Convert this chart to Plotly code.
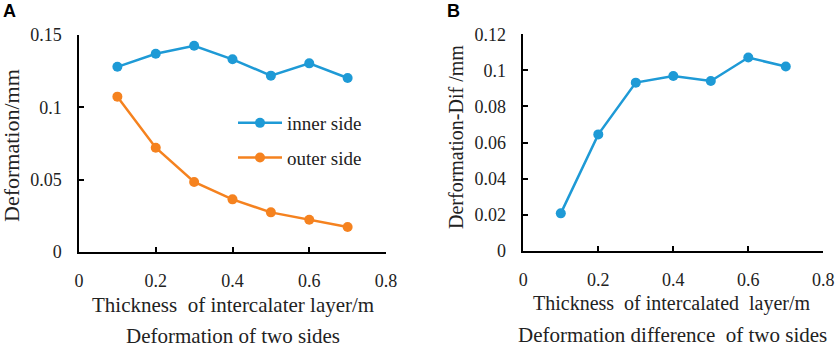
import plotly.graph_objects as go

thickness = [0.1, 0.2, 0.3, 0.4, 0.5, 0.6, 0.7]
inner_side = [0.128, 0.137, 0.1426, 0.1332, 0.1219, 0.1304, 0.1203]
outer_side = [0.1074, 0.0721, 0.0484, 0.0364, 0.0274, 0.0223, 0.0173]
difference = [0.0207, 0.0645, 0.0932, 0.0969, 0.0941, 0.1071, 0.1021]

x_ticks = [0, 0.2, 0.4, 0.6, 0.8]
x_tick_text = ["0", "0.2", "0.4", "0.6", "0.8"]
ya_ticks = [0, 0.05, 0.1, 0.15]
ya_tick_text = ["0", "0.05", "0.1", "0.15"]
yb_ticks = [0, 0.02, 0.04, 0.06, 0.08, 0.1, 0.12]
yb_tick_text = ["0", "0.02", "0.04", "0.06", "0.08", "0.1", "0.12"]

BLUE = "#1E9AD6"
ORANGE = "#F5821F"
SERIF = "Liberation Serif"
SANS = "Liberation Sans"

W, H = 837, 347

fig = go.Figure()
fig.add_trace(go.Scatter(x=thickness, y=inner_side, name="inner side", mode="lines+markers",
                         line=dict(color=BLUE, width=2.5), marker=dict(size=10, color=BLUE),
                         xaxis="x", yaxis="y", legendgroup="a"))
fig.add_trace(go.Scatter(x=thickness, y=outer_side, name="outer side", mode="lines+markers",
                         line=dict(color=ORANGE, width=2.5), marker=dict(size=10, color=ORANGE),
                         xaxis="x", yaxis="y", legendgroup="b"))
fig.add_trace(go.Scatter(x=thickness, y=difference, name="difference", mode="lines+markers",
                         line=dict(color=BLUE, width=2.5), marker=dict(size=10, color=BLUE),
                         xaxis="x2", yaxis="y2", showlegend=False))

axis_common = dict(showgrid=False, zeroline=False, showline=True, linecolor="black", linewidth=1.5,
                   ticks="inside", ticklen=5, tickwidth=1.5, tickcolor="black", automargin=False,
                   tickfont=dict(family=SERIF, size=18, color="#222"))

def px_x(p):
    return p / W

def px_y(p):
    return 1 - p / H

fig.update_layout(
    template="none",
    width=W, height=H, autosize=False,
    margin=dict(l=0, r=0, t=0, b=0, pad=0, autoexpand=False),
    paper_bgcolor="white", plot_bgcolor="white",
    font=dict(family=SERIF),
    xaxis=dict(domain=[px_x(79), px_x(386)], range=[0, 0.8], tickvals=x_ticks, ticktext=x_tick_text,
               anchor="y", ticklabelstandoff=12, **axis_common),
    yaxis=dict(domain=[px_y(252), px_y(35)], range=[0, 0.15], tickvals=ya_ticks, ticktext=ya_tick_text,
               anchor="x", ticklabelstandoff=12, **axis_common),
    xaxis2=dict(domain=[px_x(523.3), px_x(823.3)], range=[0, 0.8], tickvals=x_ticks, ticktext=x_tick_text,
                anchor="y2", ticklabelstandoff=12, **axis_common),
    yaxis2=dict(domain=[px_y(250.7), px_y(34.3)], range=[0, 0.12], tickvals=yb_ticks, ticktext=yb_tick_text,
                anchor="x2", ticklabelstandoff=12, **axis_common),
    legend=dict(x=px_x(233), y=px_y(104), xanchor="left", yanchor="top",
                font=dict(family=SERIF, size=19, color="#222"), bgcolor="rgba(0,0,0,0)",
                borderwidth=0, tracegroupgap=7, itemwidth=44),
    showlegend=True,
)

def ann(text, x, y, size=21, angle=0, family=SERIF, xanchor="center", color="#222"):
    fig.add_annotation(text=text, x=px_x(x), y=px_y(y), xref="paper", yref="paper",
                       showarrow=False, textangle=angle, xanchor=xanchor, yanchor="middle",
                       font=dict(family=family, size=size, color=color))

ann("Thickness  of intercalater layer/m", 233, 305)
ann("Deformation of two sides", 233, 336)
ann("Deformation/mm", 11, 146, size=22, angle=-90)
ann("Thickness  of intercalated  layer/m", 672, 303, size=20)
ann("Deformation difference  of two sides", 672, 335)
ann("Derformation-Dif /mm", 456, 137, size=20, angle=-90)
ann("<b>A</b>", 1, 11, size=18, family=SANS, xanchor="left", color="black")
ann("<b>B</b>", 445, 11, size=18, family=SANS, xanchor="left", color="black")

fig.write_html("out.html", config={"displayModeBar": False, "responsive": False},
               post_script="document.body.style.margin='0';document.body.style.padding='0';document.body.style.overflow='hidden';")
